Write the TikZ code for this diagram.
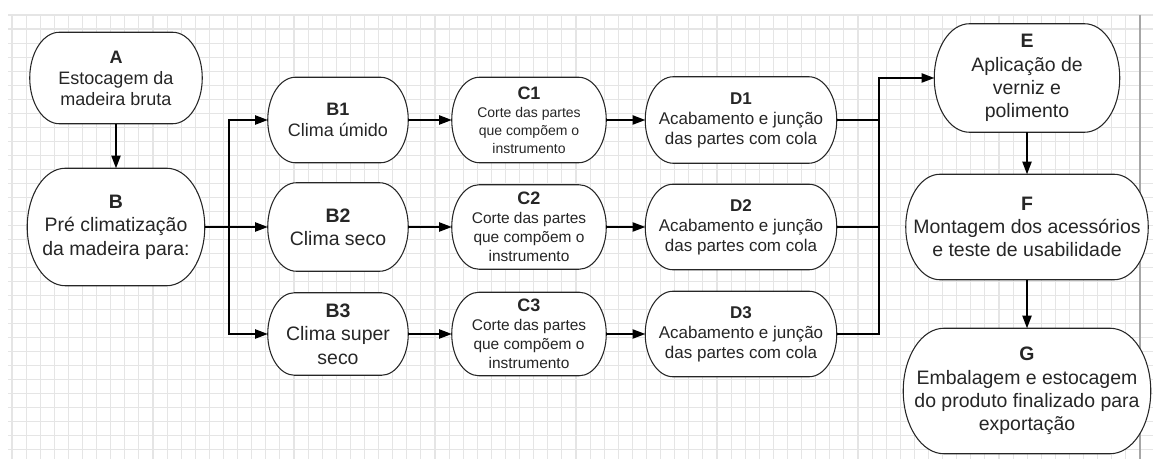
\documentclass[tikz,border=0pt]{standalone}
\usepackage{fontspec}
\setmainfont{Liberation Sans}
\usetikzlibrary{arrows.meta, calc, backgrounds}

\newcommand{\szmain}{\fontsize{14.6}{17.5}\selectfont}
\newcommand{\szmid}{\fontsize{13.5}{15.75}\selectfont}
\newcommand{\szacab}{\fontsize{12.75}{15}\selectfont}
\newcommand{\szcorte}{\fontsize{11.6}{14.25}\selectfont}
\newcommand{\szcortep}{\fontsize{10.5}{13.5}\selectfont}

\tikzset{
	etapa/.style={rectangle, align=center, inner sep=0pt, text=black!85},
	contorno/.style={draw=black!85, fill=white, line width=0.8pt},
	ligacao/.style={->, line width=1pt},
	quadricula/.style={draw=black!10, line width=0.8pt},
}

\begin{document}
\begin{tikzpicture}[>={Triangle[length=9.5pt, width=7pt]}, x=0.75pt, y=-0.75pt]
	\useasboundingbox (0,0) rectangle (1153,459);
	%%%	Etapas
	\node[etapa, minimum width=129pt, minimum height=68.25pt, font=\szmid] (A) at (116,78) {\textbf{A}\\Estocagem da\\madeira bruta};
	\node[etapa, minimum width=132.75pt, minimum height=87.75pt, font=\szmain] (B) at (116,227) {\textbf{B}\\Pré climatização\\da madeira para:};
	\node[etapa, minimum width=105pt, minimum height=63.75pt, font=\szmid] (B1) at (338,120) {\textbf{B1}\\Clima úmido};
	\node[etapa, minimum width=105pt, minimum height=66pt, font=\szmain] (B2) at (338,227) {\textbf{B2}\\Clima seco};
	\node[etapa, minimum width=105pt, minimum height=61.5pt, font=\szmain] (B3) at (338,334) {\textbf{B3}\\Clima super\\seco};
	\node[etapa, minimum width=115.5pt, minimum height=63.75pt, font=\szcortep] (C1) at (529,120) {{\szmid\textbf{C1}}\\Corte das partes\\que compõem o\\instrumento};
	\node[etapa, minimum width=115.5pt, minimum height=63pt, font=\szcorte] (C2) at (529,227) {{\szmid\textbf{C2}}\\Corte das partes\\que compõem o\\instrumento};
	\node[etapa, minimum width=115.5pt, minimum height=62.25pt, font=\szcorte] (C3) at (529,334) {{\szmid\textbf{C3}}\\Corte das partes\\que compõem o\\instrumento};
	\node[etapa, minimum width=143.25pt, minimum height=64.5pt, font=\szacab] (D1) at (741,120) {\textbf{D1}\\Acabamento e junção\\das partes com cola};
	\node[etapa, minimum width=143.25pt, minimum height=63.75pt, font=\szacab] (D2) at (741,227) {\textbf{D2}\\Acabamento e junção\\das partes com cola};
	\node[etapa, minimum width=143.25pt, minimum height=63.75pt, font=\szacab] (D3) at (741,334) {\textbf{D3}\\Acabamento e junção\\das partes com cola};
	\node[etapa, minimum width=138.75pt, minimum height=81pt, font=\szmain] (E) at (1027,78) {\textbf{E}\\Aplicação de\\verniz e\\polimento};
	\node[etapa, minimum width=181.5pt, minimum height=78.75pt, font=\szmain] (F) at (1027,227) {\textbf{F}\\Montagem dos acessórios\\e teste de usabilidade};
	\node[etapa, minimum width=185.25pt, minimum height=93.75pt, font=\szmain] (G) at (1027,391) {\textbf{G}\\Embalagem e estocagem\\do produto finalizado para\\exportação};
	\coordinate (divB) at (229,227);
	\coordinate (unD) at (879,78);
	%%%	Ligacoes
	\draw[ligacao] (A) -- (B);
	\draw[ligacao] (B.east) -- (divB) |- (B1);
	\draw[ligacao] (divB) |- (B3);
	\draw[ligacao] (divB) -- (B2);
	\foreach \k in {1,2,3}
	{
		\draw[ligacao] (B\k) -- (C\k);
		\draw[ligacao] (C\k) -- (D\k);
	}
	\draw[line width=1pt] (D1.east) -- (D1.east -| unD);
	\draw[line width=1pt] (D2.east) -- (D2.east -| unD);
	\draw[ligacao] (D3.east) -| (unD) -- (E);
	\draw[ligacao] (E) -- (F);
	\draw[ligacao] (F) -- (G);
	%%%	Fundo e contornos
	\begin{scope}[on background layer]
		\foreach \i in {0,...,80}
		\draw[quadricula] ({12+14.1*\i},15) -- ({12+14.1*\i},459);
		\foreach \j in {0,...,31}
		\draw[quadricula] (8,{15+14.03*\j}) -- (1153,{15+14.03*\j});
		\draw[black!35, line width=0.8pt] (1140,15) -- (1140,459);
		\foreach \k in {A,B,B1,B2,B3,C1,C2,C3,D1,D2,D3,E,F,G}
		\draw[contorno] let \p1=(\k.north west), \p2=(\k.south east), \n1={(\y1-\y2)/2}, \n2={0.65*\n1} in
			(\x1+\n2,\y1) -- (\x2-\n2,\y1) arc[start angle=90, end angle=-90, x radius=\n2, y radius=\n1]
			-- (\x1+\n2,\y2) arc[start angle=270, end angle=90, x radius=\n2, y radius=\n1] -- cycle;
	\end{scope}
\end{tikzpicture}
\end{document}
